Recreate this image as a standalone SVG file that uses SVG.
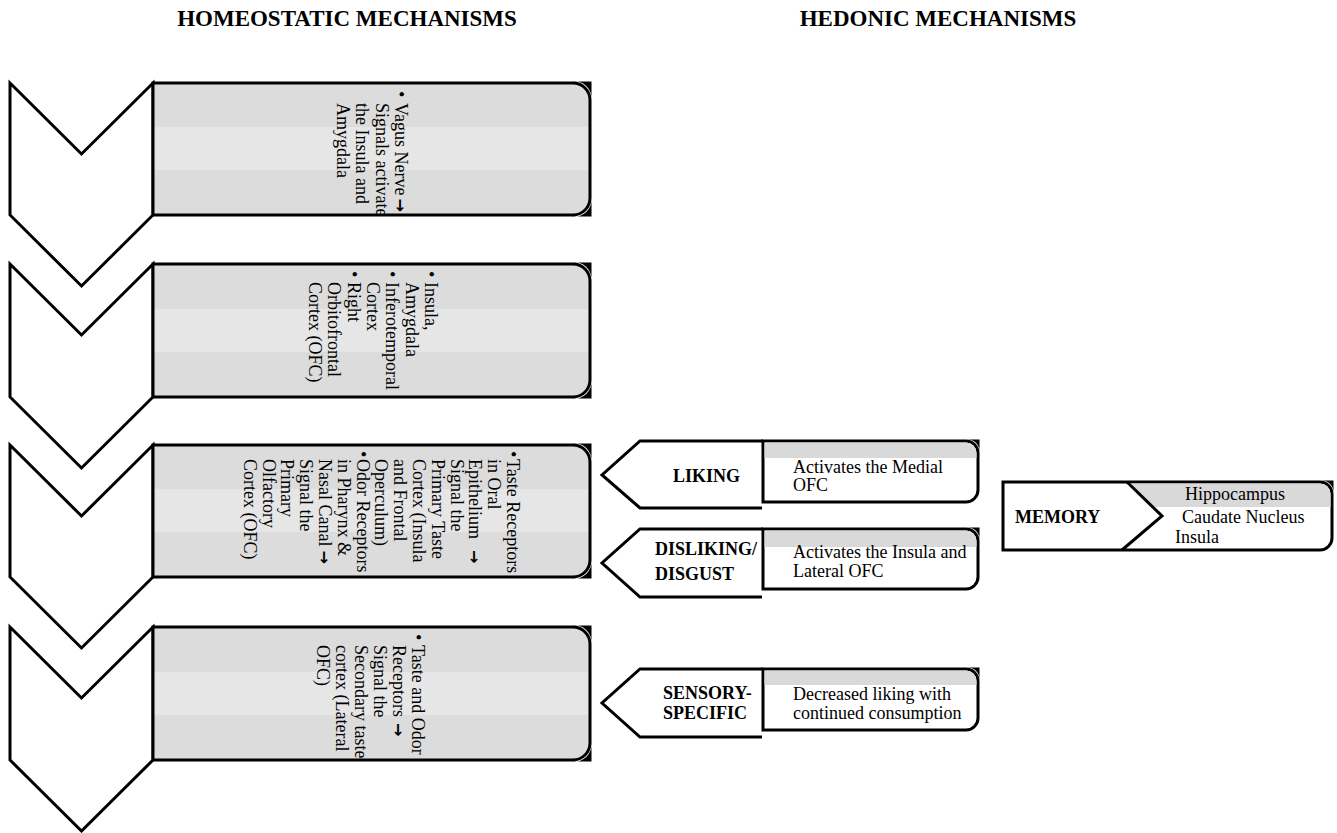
<svg xmlns="http://www.w3.org/2000/svg" width="1337" height="833" viewBox="0 0 1337 833">
<defs>
<linearGradient id="gb" x1="0" y1="0" x2="0" y2="1">
<stop offset="0" stop-color="#dcdcdc"/><stop offset="0.335" stop-color="#dcdcdc"/>
<stop offset="0.335" stop-color="#e6e6e6"/><stop offset="0.66" stop-color="#e6e6e6"/>
<stop offset="0.66" stop-color="#dcdcdc"/><stop offset="1" stop-color="#dcdcdc"/>
</linearGradient>
</defs>
<style>
.chev{fill:#fff;stroke:#000;stroke-width:3;stroke-linejoin:miter}
.gbox{fill:url(#gb);stroke:#000;stroke-width:3}
.wbox{fill:#fff;stroke:#000;stroke-width:3}
.band{fill:#d9d9d9}
.pent{fill:#fff;stroke:#000;stroke-width:3}
.wedge{fill:#000}
.t{font-family:"Liberation Serif","Times New Roman",serif;font-size:18px;fill:#000}
.ar{font-family:"DejaVu Sans",sans-serif;font-size:16px;font-weight:bold}
.b{font-family:"Liberation Serif","Times New Roman",serif;font-size:18px;font-weight:bold;fill:#000}
.h{font-family:"Liberation Serif","Times New Roman",serif;font-size:23px;font-weight:bold;fill:#000;text-anchor:middle}
</style>
<rect width="1337" height="833" fill="#fff"/>
<g id="headers">
<text class="h" x="347" y="26">HOMEOSTATIC MECHANISMS</text>
<text class="h" x="938" y="26">HEDONIC MECHANISMS</text>
</g>
<g id="connectors"></g>
<g id="chevrons">
<path class="chev" d="M10,83 L81.5,154 L153,83 L153,215 L81.5,286 L10,215 Z"/>
<path class="chev" d="M10,264 L81.5,335 L153,264 L153,397 L81.5,468 L10,397 Z"/>
<path class="chev" d="M10,445 L81.5,516 L153,445 L153,577 L81.5,648 L10,577 Z"/>
<path class="chev" d="M10,627 L81.5,698 L153,627 L153,760 L81.5,831 L10,760 Z"/>
</g>
<g id="box1">
<path class="wedge" d="M572,81.5 H591.5 V100 A17,17 0 0 0 572,81.5 Z"/>
<path class="wedge" d="M572,216.5 H591.5 V198 A17,17 0 0 1 572,216.5 Z"/>
<path class="gbox" d="M153,83 H573 A17,17 0 0 1 590,100 V198 A17,17 0 0 1 573,215 H153 Z"/>
<g transform="rotate(90)">
<text class="t" y="-395"><tspan x="91">•</tspan><tspan x="103">Vagus Nerve</tspan><tspan class="ar" dx="3">→</tspan></text>
<text class="t" x="103" y="-375.5">Signals activate</text>
<text class="t" x="103" y="-356">the Insula and</text>
<text class="t" x="103" y="-336.5">Amygdala</text>
</g>
</g>
<g id="box2">
<path class="wedge" d="M572,262.5 H591.5 V281 A17,17 0 0 0 572,262.5 Z"/>
<path class="wedge" d="M572,398.5 H591.5 V380 A17,17 0 0 1 572,398.5 Z"/>
<path class="gbox" d="M153,264 H573 A17,17 0 0 1 590,281 V380 A17,17 0 0 1 573,397 H153 Z"/>
<g transform="rotate(90)">
<text class="t" y="-425"><tspan x="271">•</tspan><tspan x="282">Insula,</tspan></text>
<text class="t" x="282" y="-406">Amygdala</text>
<text class="t" y="-386"><tspan x="271">•</tspan><tspan x="282">Inferotemporal</tspan></text>
<text class="t" x="282" y="-366.5">Cortex</text>
<text class="t" y="-347.5"><tspan x="271">•</tspan><tspan x="282">Right</tspan></text>
<text class="t" x="282" y="-328">Orbitofrontal</text>
<text class="t" x="282" y="-309">Cortex (OFC)</text>
</g>
</g>
<g id="box3">
<path class="wedge" d="M572,443.5 H591.5 V462 A17,17 0 0 0 572,443.5 Z"/>
<path class="wedge" d="M572,578.5 H591.5 V560 A17,17 0 0 1 572,578.5 Z"/>
<path class="gbox" d="M153,445 H573 A17,17 0 0 1 590,462 V560 A17,17 0 0 1 573,577 H153 Z"/>
<g transform="rotate(90)">
<text class="t" y="-507"><tspan x="451">•</tspan><tspan x="459">Taste Receptors</tspan></text>
<text class="t" x="459" y="-488.2">in Oral</text>
<text class="t" x="459" y="-469.4">Epithelium<tspan class="ar" dx="11">→</tspan></text>
<text class="t" x="459" y="-450.6">Signal the</text>
<text class="t" x="459" y="-431.8">Primary Taste</text>
<text class="t" x="459" y="-413">Cortex (Insula</text>
<text class="t" x="459" y="-394.2">and Frontal</text>
<text class="t" x="459" y="-375.4">Operculum)</text>
<text class="t" y="-356.6"><tspan x="451">•</tspan><tspan x="459">Odor Receptors</tspan></text>
<text class="t" x="459" y="-337.8">in Pharynx &amp;</text>
<text class="t" x="459" y="-319">Nasal Canal<tspan class="ar" dx="4">→</tspan></text>
<text class="t" x="459" y="-300.2">Signal the</text>
<text class="t" x="459" y="-281.4">Primary</text>
<text class="t" x="459" y="-262.6">Olfactory</text>
<text class="t" x="459" y="-243.8">Cortex (OFC)</text>
</g>
</g>
<g id="box4">
<path class="wedge" d="M572,625.5 H591.5 V644 A17,17 0 0 0 572,625.5 Z"/>
<path class="wedge" d="M572,761.5 H591.5 V743 A17,17 0 0 1 572,761.5 Z"/>
<path class="gbox" d="M153,627 H573 A17,17 0 0 1 590,644 V743 A17,17 0 0 1 573,760 H153 Z"/>
<g transform="rotate(90)">
<text class="t" y="-412"><tspan x="634">•</tspan><tspan x="645">Taste and Odor</tspan></text>
<text class="t" x="645" y="-393">Receptors<tspan class="ar" dx="6">→</tspan></text>
<text class="t" x="645" y="-373.5">Signal the</text>
<text class="t" x="645" y="-354.5">Secondary taste</text>
<text class="t" x="645" y="-335.5">cortex (Lateral</text>
<text class="t" x="645" y="-316.5">OFC)</text>
</g>
</g>
<g id="liking">
<path class="pent" d="M763,441 H640 L602,475 L640,508 H762"/>
<path class="wedge" d="M966,439.5 H979.5 V452 A12,12 0 0 0 966,439.5 Z"/>
<path class="wbox" d="M763,441 H966 A12,12 0 0 1 978,453 V490 A12,12 0 0 1 966,502 H763 Z"/>
<path class="band" d="M764.5,442.5 H966 A10.5,10.5 0 0 1 976.5,453 V458 H764.5 Z"/>
<text class="b" x="673" y="482">LIKING</text>
<text class="t" x="793" y="473">Activates the Medial</text>
<text class="t" x="793" y="491">OFC</text>
</g>
<g id="disliking">
<path class="pent" d="M763,529 H640 L602,563 L640,597 H762"/>
<path class="wedge" d="M966,527.5 H979.5 V540 A12,12 0 0 0 966,527.5 Z"/>
<path class="wbox" d="M763,529 H966 A12,12 0 0 1 978,541 V577 A12,12 0 0 1 966,589 H763 Z"/>
<path class="band" d="M764.5,530.5 H966 A10.5,10.5 0 0 1 976.5,541 V547 H764.5 Z"/>
<text class="b" x="655" y="555">DISLIKING/</text>
<text class="b" x="655" y="580">DISGUST</text>
<text class="t" x="793" y="558">Activates the Insula and</text>
<text class="t" x="793" y="577">Lateral OFC</text>
</g>
<g id="sensory">
<path class="pent" d="M763,669 H640 L602,703 L640,737 H762"/>
<path class="wedge" d="M966,667.5 H979.5 V680 A12,12 0 0 0 966,667.5 Z"/>
<path class="wbox" d="M763,669 H966 A12,12 0 0 1 978,681 V718 A12,12 0 0 1 966,730 H763 Z"/>
<path class="band" d="M764.5,670.5 H966 A10.5,10.5 0 0 1 976.5,681 V685 H764.5 Z"/>
<text class="b" x="663" y="699">SENSORY-</text>
<text class="b" x="663" y="719">SPECIFIC</text>
<text class="t" x="793" y="700">Decreased liking with</text>
<text class="t" x="793" y="719">continued consumption</text>
</g>
<g id="memory">
<path class="wedge" d="M1320,480.5 H1333.5 V493 A12,12 0 0 0 1320,480.5 Z"/>
<path class="wbox" d="M1003,482 H1320 A12,12 0 0 1 1332,494 V538 A12,12 0 0 1 1320,550 H1003 Z"/>
<path class="band" d="M1129,483.5 H1320 A10.5,10.5 0 0 1 1330.5,494 V507 H1153 Z"/>
<path d="M1127,482 L1162,516 L1122,550" fill="none" stroke="#000" stroke-width="3"/>
<text class="b" x="1015" y="523">MEMORY</text>
<text class="t" x="1185" y="500">Hippocampus</text>
<text class="t" x="1182" y="523">Caudate Nucleus</text>
<text class="t" x="1175" y="543">Insula</text>
</g>
</svg>
